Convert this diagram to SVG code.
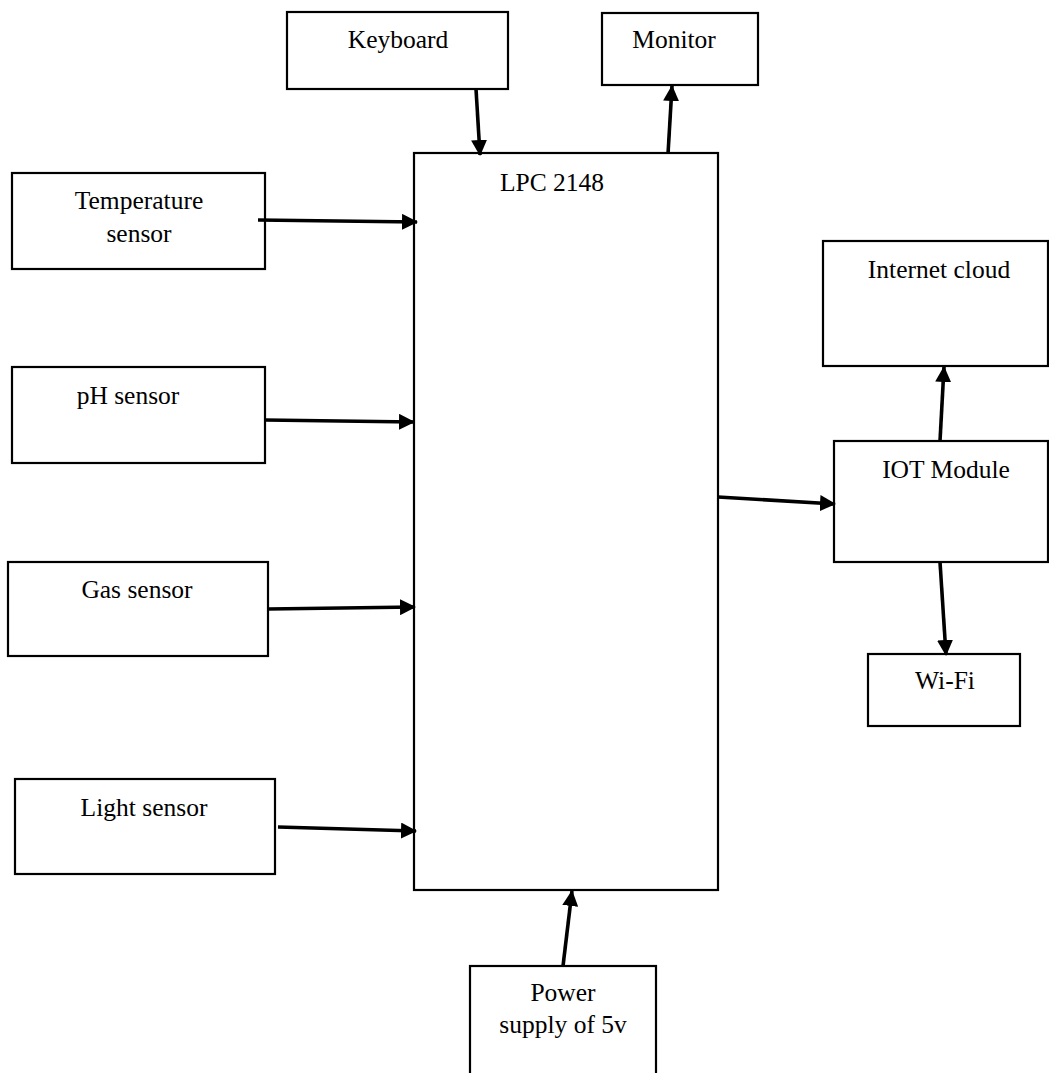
<svg xmlns="http://www.w3.org/2000/svg" width="1049" height="1073" viewBox="0 0 1049 1073">
<style>
.box{fill:#fff;stroke:#000;stroke-width:2.2}
.lbl{font-family:"Liberation Serif","Times New Roman",serif;font-size:25.5px;fill:#000;text-anchor:middle}
.con{stroke:#000;stroke-width:3.6;fill:none;marker-end:url(#ah)}
</style>
<defs>
<marker id="ah" markerUnits="userSpaceOnUse" markerWidth="16" markerHeight="16" viewBox="0 0 16 16" refX="15" refY="8" orient="auto">
<path d="M0,0 L16,8 L0,16 Z" fill="#000"/>
</marker>
</defs>
<rect width="1049" height="1073" fill="#fff"/>
<g id="keyboard"><rect class="box" x="287" y="12" width="221" height="77"/><text class="lbl" x="398" y="48">Keyboard</text></g>
<g id="monitor"><rect class="box" x="602" y="13" width="156" height="72"/><text class="lbl" x="674" y="48">Monitor</text></g>
<g id="lpc"><rect class="box" x="414" y="153" width="304" height="737"/><text class="lbl" x="552" y="191">LPC 2148</text></g>
<g id="temperature"><rect class="box" x="12" y="173" width="253" height="96"/><text class="lbl" x="139" y="209">Temperature</text><text class="lbl" x="139" y="242">sensor</text></g>
<g id="ph"><rect class="box" x="12" y="367" width="253" height="96"/><text class="lbl" x="128" y="404">pH sensor</text></g>
<g id="gas"><rect class="box" x="8" y="562" width="260" height="94"/><text class="lbl" x="137" y="598">Gas sensor</text></g>
<g id="light"><rect class="box" x="15" y="779" width="260" height="95"/><text class="lbl" x="144" y="816">Light sensor</text></g>
<g id="cloud"><rect class="box" x="823" y="241" width="225" height="125"/><text class="lbl" x="939" y="278">Internet cloud</text></g>
<g id="iot"><rect class="box" x="834" y="441" width="214" height="121"/><text class="lbl" x="946" y="478">IOT Module</text></g>
<g id="wifi"><rect class="box" x="868" y="654" width="152" height="72"/><text class="lbl" x="945" y="689">Wi-Fi</text></g>
<g id="power"><rect class="box" x="470" y="966" width="186" height="120"/><text class="lbl" x="563" y="1001">Power</text><text class="lbl" x="563" y="1033">supply of 5v</text></g>
<g id="connectors">
<line class="con" x1="476" y1="89" x2="480" y2="155"/>
<line class="con" x1="668" y1="154" x2="672" y2="86"/>
<line class="con" x1="258" y1="220" x2="417" y2="222"/>
<line class="con" x1="265" y1="420" x2="414" y2="422"/>
<line class="con" x1="268" y1="609" x2="415" y2="607"/>
<line class="con" x1="278" y1="827" x2="416" y2="831"/>
<line class="con" x1="718" y1="497" x2="835" y2="504"/>
<line class="con" x1="940" y1="441" x2="944" y2="367"/>
<line class="con" x1="940" y1="562" x2="946" y2="655"/>
<line class="con" x1="563" y1="966" x2="572" y2="891"/>
</g>
</svg>
